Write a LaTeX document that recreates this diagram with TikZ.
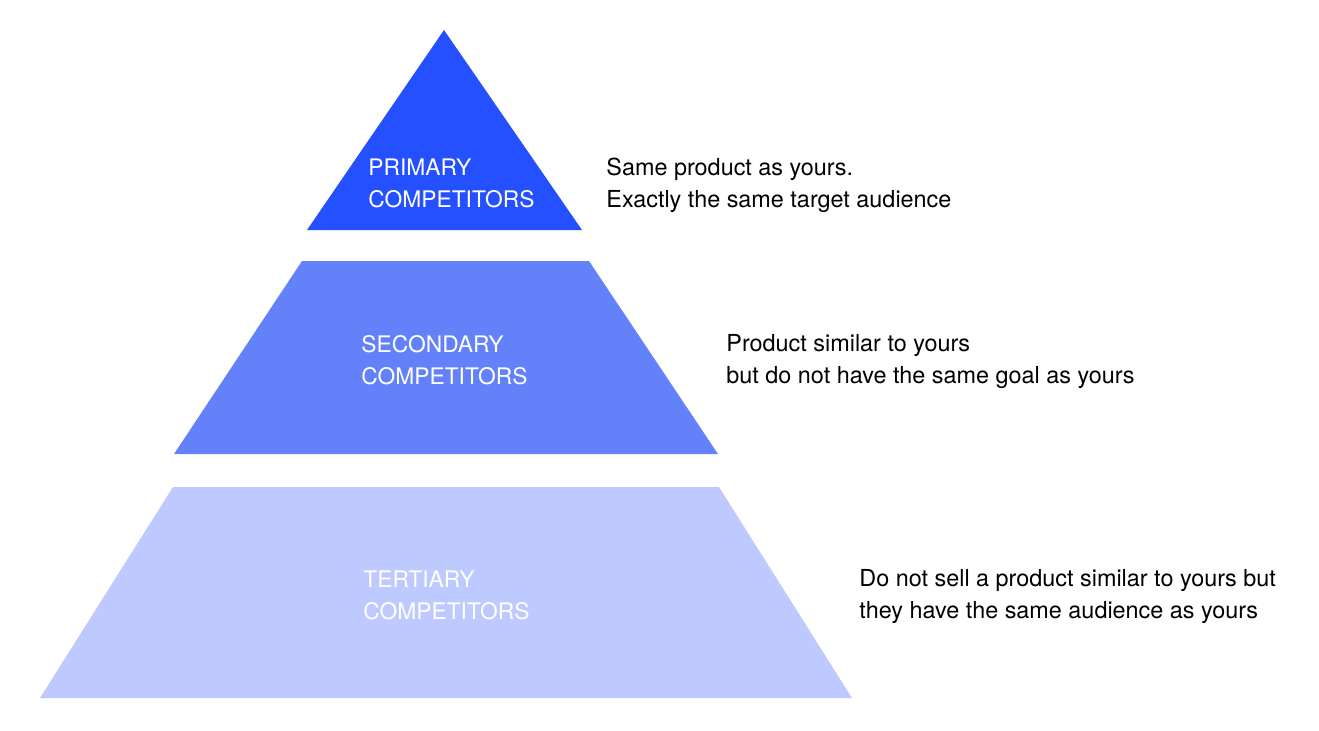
\documentclass[tikz,border=0pt]{standalone}
\usepackage{fontspec}
\setmainfont{TeX Gyre Heros}
\usepackage{xcolor}
\usetikzlibrary{positioning}
\definecolor{PrimaryBlue}{HTML}{2450FF}
\definecolor{SecondaryBlue}{HTML}{6382FA}
\definecolor{TertiaryBlue}{HTML}{BDC9FF}

\begin{document}
\begin{tikzpicture}[
  x=0.5pt, y=-0.5pt,
  tier/.style={anchor=north west,inner sep=0pt,align=left,text=white,
    font=\fontsize{11.4}{16}\selectfont},
  note/.style={anchor=north west,inner sep=0pt,align=left,text=black,
    font=\fontsize{11.7}{16}\selectfont}
]
  \useasboundingbox (0,0) rectangle (1319,730);

  % pyramid levels
  \fill[PrimaryBlue] (444,30) -- (582,230) -- (307,230) -- cycle;
  \fill[SecondaryBlue] (302,261) -- (589,261) -- (718,454) -- (174,454) -- cycle;
  \fill[TertiaryBlue] (173,487) -- (719,487) -- (852,698) -- (40,698) -- cycle;

  % level names
  \node[tier] (primary) at (368,158) {PRIMARY\\COMPETITORS};
  \node[tier] (secondary) at (361,335) {SECONDARY\\COMPETITORS};
  \node[tier] (tertiary) at (363,570) {TERTIARY\\COMPETITORS};

  % descriptions
  \node[note] (primarynote) at (606,158) {Same product as yours.\\Exactly the same target audience};
  \node[note] (secondarynote) at (726,334) {Product similar to yours\\but do not have the same goal as yours};
  \node[note] (tertiarynote) at (859,569) {Do not sell a product similar to yours but\\they have the same audience as yours};
\end{tikzpicture}
\end{document}
